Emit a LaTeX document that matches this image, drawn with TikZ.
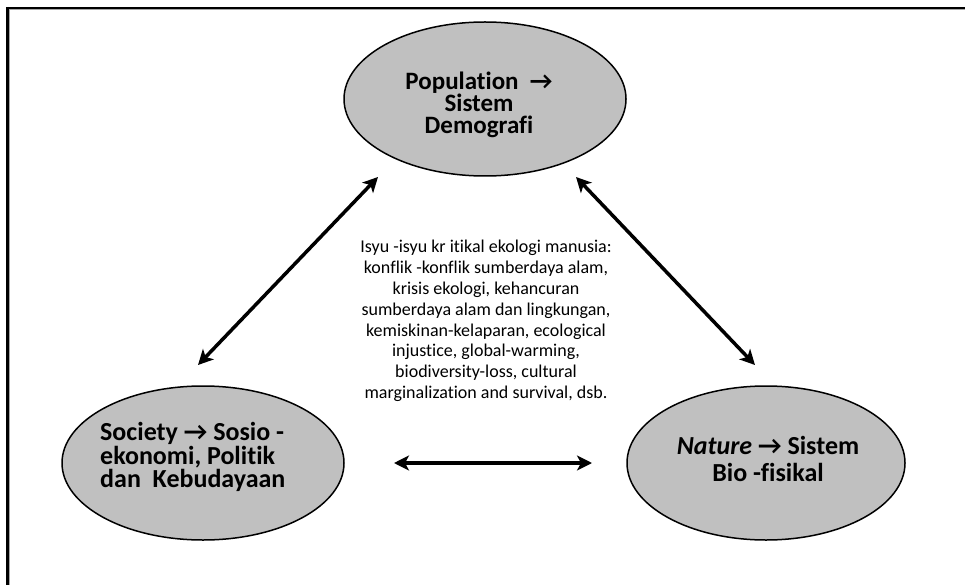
\documentclass[tikz,border=0pt]{standalone}
\usepackage{fontspec}
\setmainfont{Carlito}[Ligatures={NoCommon}]
\usetikzlibrary{arrows.meta,shapes.geometric}
\definecolor{ellfill}{RGB}{192,192,192}
\tikzset{
  ell/.style={draw=black, line width=1.5pt, fill=ellfill, ellipse, inner sep=0pt},
  lbl/.style={inner sep=0pt},
  dbl/.style={line width=3.5pt, {Stealth[length=15pt,width=15pt,inset=4pt]}-{Stealth[length=15pt,width=15pt,inset=4pt]}},
}
\begin{document}
\begin{tikzpicture}[x=1pt,y=-1pt]
\useasboundingbox (0,0) rectangle (965,585);
% frame (top and left only)
\draw[line width=1pt, gray!70] (9,10) -- (965,10);
\draw[line width=1pt, gray!70] (9,10) -- (9,585);
\draw[line width=2.2pt] (7.5,8) -- (965,8);
\draw[line width=2.2pt] (7.5,7) -- (7.5,585);
% ellipses
\node[ell, minimum width=282, minimum height=154] (pop) at (485,99) {};
\node[ell, minimum width=282, minimum height=154] (soc) at (203,463) {};
\node[ell, minimum width=278, minimum height=154] (nat) at (766,463) {};
% ellipse texts
\node[lbl, align=center, font=\bfseries\fontsize{25}{22}\selectfont] (ptxt) at (479,105)
  {Population\ \ →\\Sistem\\Demografi};
\node[lbl, align=left, anchor=west, font=\bfseries\fontsize{26}{23.5}\selectfont] (stxt) at (100,457)
  {Society → Sosio -\\ekonomi, Politik\\dan\ \ Kebudayaan};
\node[lbl, align=center, font=\bfseries\fontsize{26}{27}\selectfont] (ntxt) at (768,458.5)
  {\textit{Nature} → Sistem\\Bio -fisikal};
% central text
\node[lbl, align=center, font=\fontsize{18}{20.86}\selectfont] (mtxt) at (486,321)
  {Isyu -isyu kr itikal ekologi manusia:\\
   konflik -konflik sumberdaya alam,\\
   krisis ekologi, kehancuran\\
   sumberdaya alam dan lingkungan,\\
   kemiskinan-kelaparan, ecological\\
   injustice, global-warming,\\
   biodiversity-loss, cultural\\
   marginalization and survival, dsb.};
% arrows
\coordinate (a1) at (198,365);
\coordinate (a2) at (378,177);
\coordinate (b1) at (576,177);
\coordinate (b2) at (755,365);
\coordinate (c1) at (394,463);
\coordinate (c2) at (592,463);
\draw[dbl] (a1) -- (a2);
\draw[dbl] (b1) -- (b2);
\draw[dbl] (c1) -- (c2);
\end{tikzpicture}
\end{document}
